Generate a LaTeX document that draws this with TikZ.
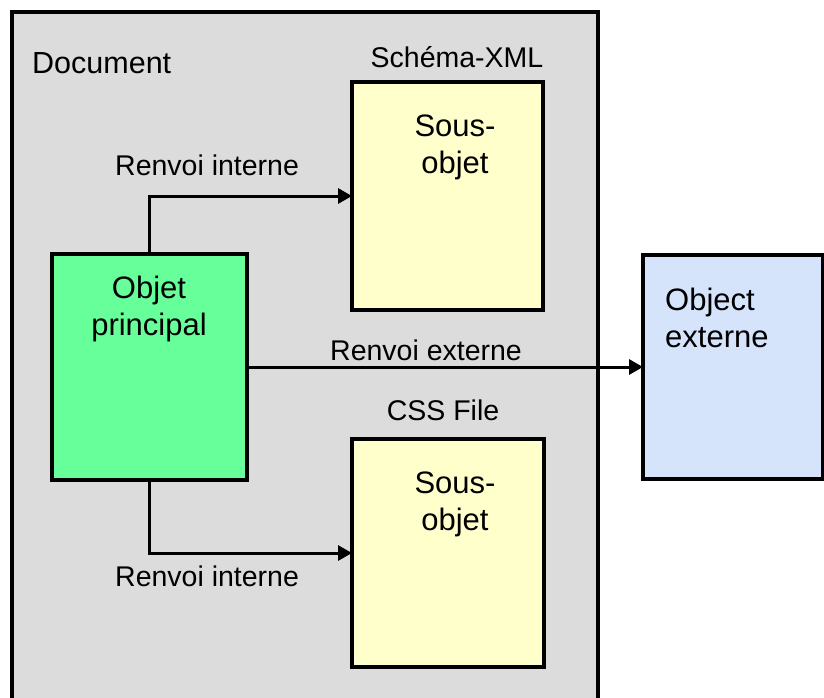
\documentclass[tikz,border=0pt]{standalone}
\usepackage{fontspec}
\setmainfont{Liberation Sans}
\usetikzlibrary{arrows.meta}
\definecolor{docgray}{HTML}{DCDCDC}
\definecolor{mainGreen}{HTML}{66FF99}
\definecolor{subYellow}{HTML}{FFFFCC}
\definecolor{extBlue}{HTML}{D5E3FB}
\tikzset{
  boxshape/.style={draw=black, line width=3.2pt, rectangle, inner sep=0pt, outer sep=0pt},
  boxtext/.style={inner sep=0pt, align=center, font=\fontsize{31}{37}\selectfont},
  lbl/.style={inner sep=0pt, font=\fontsize{28.5}{34}\selectfont},
  conn/.style={line width=3pt, -{Triangle[length=14pt,width=15pt]}}
}
\begin{document}
\begin{tikzpicture}[x=1pt,y=-1pt]
\useasboundingbox (0,0) rectangle (824,697);
\fill[white] (0,0) rectangle (824,697);
% document frame
\draw[line width=3.2pt, fill=docgray] (12,12) rectangle (598,720);
\node[lbl, anchor=base west, font=\fontsize{30.5}{36}\selectfont] (doclbl) at (32,73) {Document};
% boxes
\node[boxshape, fill=mainGreen, minimum width=195pt, minimum height=226pt] (main) at (149.5,367) {};
\node[boxshape, fill=subYellow, minimum width=191pt, minimum height=228pt] (sub1) at (447.5,196) {};
\node[boxshape, fill=subYellow, minimum width=192pt, minimum height=228pt] (sub2) at (448,553) {};
\node[boxshape, fill=extBlue, minimum width=180pt, minimum height=224pt] (ext) at (733,367) {};
% box texts (base = baseline of last line)
\node[boxtext, anchor=base] (t1) at (455,173) {Sous-\\objet};
\node[boxtext, anchor=base] (t2) at (455,530) {Sous-\\objet};
\node[boxtext, anchor=base] (t3) at (149,335) {Objet\\principal};
\node[boxtext, anchor=base west, align=left] (t4) at (665,347) {Object\\externe};
% labels
\node[lbl, anchor=base] (schema) at (457,67) {Schéma-XML};
\node[lbl, anchor=base] (css) at (443,420) {CSS File};
\node[lbl, anchor=base west] (ri1) at (115,175) {Renvoi interne};
\node[lbl, anchor=base west] (ri2) at (115,586) {Renvoi interne};
\node[lbl, anchor=base west] (re) at (330,360) {Renvoi externe};
% connectors
\draw[conn] (main.north) |- (sub1.west);
\draw[conn] (main.south) |- (sub2.west);
\draw[conn] (main.east) -- (ext.west);
\end{tikzpicture}
\end{document}
